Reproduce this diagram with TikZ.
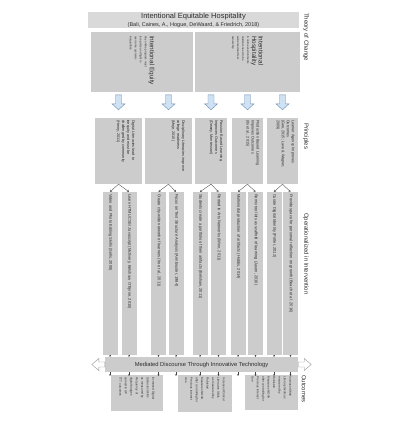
\documentclass[tikz,border=0pt]{standalone}
\usepackage{fontspec}
\setmainfont{Liberation Sans}
\usepackage{graphicx}
\usetikzlibrary{arrows.meta,calc}
\definecolor{boxgray}{RGB}{204,204,204}
\definecolor{bangray}{RGB}{217,217,217}
\definecolor{txt}{RGB}{45,45,45}
\definecolor{afill}{RGB}{207,226,243}
\definecolor{aline}{RGB}{110,140,175}
\definecolor{conn}{RGB}{70,70,70}
\definecolor{headline}{RGB}{150,150,150}
\newcommand{\vtext}[2]{\rotatebox{-90}{\parbox{#1}{\raggedright #2}}}
\newcommand{\vtextr}[3]{\rotatebox{-90}{\parbox[c][#2][t]{#1}{\raggedright #3}}}
\begin{document}
\begin{tikzpicture}[x=1pt,y=-1pt,
  box/.style={fill=boxgray,inner sep=0pt,text=txt},
  lbl/.style={inner sep=0pt,text=txt,font=\fontsize{6}{7}\selectfont,anchor=west,rotate=-90},
  connl/.style={draw=conn,line width=0.35pt,-{Stealth[length=2pt,width=2.2pt]}},
  tiny/.style={draw=conn,line width=0.3pt,-{Stealth[length=1.5pt,width=2pt]}},
  barrow/.pic={\path[fill=afill,draw=aline,line width=0.4pt] (-3,0) -- (-3,9) -- (-6.5,9) -- (0,15) -- (6.5,9) -- (3,9) -- (3,0) -- cycle;}
]
\useasboundingbox (0,0) rectangle (416,426);
\fill[white] (0,0) rectangle (416,426);

% Theory of change
\node[fill=bangray,minimum width=211,minimum height=16,inner sep=0pt,text=txt,align=center,font=\fontsize{5.5}{8}\selectfont] (th) at (193.5,20)
  {{\fontsize{7.5}{8}\selectfont Intentional Equitable Hospitality}\\(Bali, Caines, A., Hogue, DeWaard, \& Friedrich, 2018)};

\node[box,minimum width=102,minimum height=60] (tl) at (142,62)
  {\vtext{52pt}{{\fontsize{6.4}{7.5}\selectfont Intentional Equity\par}\fontsize{2.8}{5}\selectfont Any online program must\\recognize and fight to\\overcome systemic\\inequalities}};
\node[box,minimum width=105,minimum height=60] (tr) at (247.5,62)
  {\vtext{52pt}{{\fontsize{6.4}{6.5}\selectfont Intentional\\Hospitality\par}\fontsize{2.8}{5}\selectfont In online environments\\students need to be\\welcomed and feel\\ownership}};

% Principles
\node[box,minimum width=47,minimum height=66] (p1) at (118.5,151)
  {\vtextr{62pt}{33pt}{\fontsize{3.8}{5}\selectfont Digital Literacies lead to\\inequity and must be\\challenged by community\\(Henry, 2011)}};
\node[box,minimum width=47,minimum height=66] (p2) at (168.5,151)
  {\vtextr{62pt}{33pt}{\fontsize{3.8}{5}\selectfont Disciplinary Literacies improve\\college readiness\\(Moje, 2015)}};
\node[box,minimum width=32,minimum height=66] (p3) at (211,151)
  {\vtextr{62pt}{24pt}{\fontsize{3.8}{5}\selectfont Passion Based Learning\\Improves Outcomes\\(Dewey, Montessori)}};
\node[box,minimum width=31,minimum height=66] (p4) at (247.5,151)
  {\vtextr{62pt}{24pt}{\fontsize{3.8}{5}\selectfont Production Based Learning\\Improves Outcomes\\(Ito et al., 2015)}};
\node[box,minimum width=31,minimum height=66] (p5) at (282.5,151)
  {\vtextr{62pt}{24pt}{\fontsize{3.8}{5}\selectfont Learner Agency Improves\\Outcomes\\(Gee, 2015; Lave \& Wagner,\\2009)}};

\foreach \p in {p1,p2,p3,p4,p5}{\pic at ($(\p.north)+(0,-23)$) {barrow};}

% Interventions
\foreach \n/\x/\t in {
 s1/110/{Video and Photo Editing Skills  (Sells, 2008)},
 s2/129/{Learn HTML/CSS/ Javascript  (McIlvery, Belshaw, O'Byrne, 2015)},
 s3/158.5/{Create city-wide network of learners  (Ito et al., 2011)},
 s4/176/{Focus on Text Structure Analysis  (Armbruster, 1984)},
 s5/200/{Students create a portfolio of their artifacts  (Belshaw, 2011)},
 s6/218.5/{Rooted in Arts Networks  (Winn, 2011)},
 s7/238/{Multimodal production of artifacts  (Hobbs, 2014)},
 s8/255.5/{Remix tool kits as scaffold of learning  (Jason, 2016)},
 s9/274/{Curate Digital Identity  (Potter, 2012)},
 s10/290.5/{Provide space for personal reflection on growth  (Beach et al. 2016)}}{
 \node[box,minimum width=15,minimum height=163] (\n) at (\x,273.5)
   {\vtext{159pt}{\fontsize{4}{5}\selectfont \t}};
}

\draw[connl] (p1.south) -- (s1.north);
\draw[connl] (p1.south) -- (s2.north);
\draw[connl] (p2.south) -- (s3.north);
\draw[connl] (p2.south) -- (s4.north);
\draw[connl] (p3.south) -- (s5.north);
\draw[connl] (p3.south) -- (s6.north);
\draw[connl] (p4.south) -- (s7.north);
\draw[connl] (p4.south) -- (s8.north);
\draw[connl] (p5.south) -- (s9.north);
\draw[connl] (p5.south) -- (s10.north);

% Mediated discourse banner
\node[fill=boxgray,minimum width=193,minimum height=15,inner sep=0pt,text=txt,font=\fontsize{5.8}{7}\selectfont] (md) at (201.5,364.5)
  {Mediated Discourse Through Innovative Technology};
\draw[fill=white,draw=headline,line width=0.4pt] (md.west) ++(0,-2.5) -- ++(-6,0) -- ++(0,-3.5) -- ++(-7,6) -- ++(7,6) -- ++(0,-3.5) -- ++(6,0) -- cycle;
\draw[fill=white,draw=headline,line width=0.4pt] (md.east) ++(0,-2.5) -- ++(6,0) -- ++(0,-3.5) -- ++(7,6) -- ++(-7,6) -- ++(0,-3.5) -- ++(-6,0) -- cycle;

% Outcomes
\node[box,minimum width=52,minimum height=36] (o1) at (137,393)
  {\vtext{32pt}{\fontsize{3}{5.5}\selectfont Increased Digital\\Literacies Skills\\as measured by\\Frequency of\\digital badges\\earned in UP\\TTT outcomes}};
\node[box,minimum width=54,minimum height=37] (o2) at (205,393.5)
  {\vtext{32pt}{\fontsize{3}{5.4}\selectfont Increased Critical\\Literacies Skills\\as measured by\\Rubistar/\\Measures NOVA\\after controlling for\\Previous Interest\\Use}};
\node[box,minimum width=53,minimum height=35] (o3) at (271.5,392.5)
  {\vtext{32pt}{\fontsize{3}{5.4}\selectfont Increased Web\\Literacy Skills as\\measured by\\Rubistar/\\Measures NOVA\\after controlling for\\Previous Interest\\Use}};

\foreach \s in {s1,s2,s3,s4,s5,s6,s7,s8,s9,s10}{
  \draw[tiny] (\s.south) -- (\s.south |- md.north);
  \draw[tiny] (\s.south |- md.south) -- ($(\s.south |- o1.north)+(0,1)$);
}

% Side labels
\node[lbl] (ltoc) at (306,13) {Theory of Change};
\node[lbl] (lpr) at (306,123) {Principles};
\node[lbl] (lop) at (306,213) {Operationalized in Intervention};
\node[lbl] (lout) at (304,375) {Outcomes};
\end{tikzpicture}
\end{document}
